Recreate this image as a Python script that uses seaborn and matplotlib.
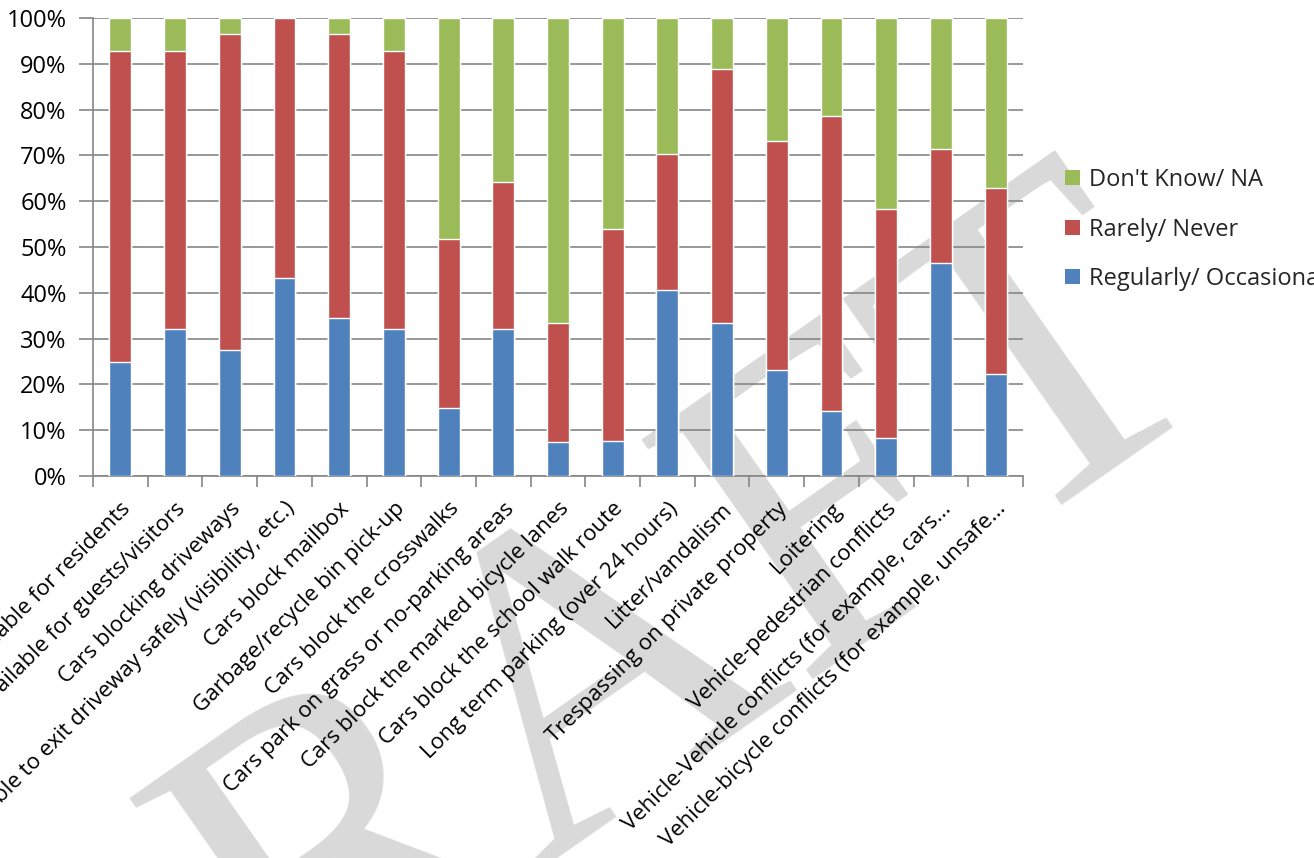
import numpy as np
import pandas as pd
import matplotlib
matplotlib.use("Agg")
import matplotlib.pyplot as plt
from matplotlib.patches import Patch
from matplotlib.ticker import FixedLocator, FuncFormatter
import seaborn as sns

# issues asked about in the survey (x axis)
issues = [
    "Parking not available for residents",
    "Parking not available for guests/visitors",
    "Cars blocking driveways",
    "Unable to exit driveway safely (visibility, etc.)",
    "Cars block mailbox",
    "Garbage/recycle bin pick-up",
    "Cars block the crosswalks",
    "Cars park on grass or no-parking areas",
    "Cars block the marked bicycle lanes",
    "Cars block the school walk route",
    "Long term parking (over 24 hours)",
    "Litter/vandalism",
    "Trespassing on private property",
    "Loitering",
    "Vehicle-pedestrian conflicts",
    "Vehicle-Vehicle conflicts (for example, cars...",
    "Vehicle-bicycle conflicts (for example, unsafe...",
]

# shares of answers, percent
regularly = [25.0, 32.1, 27.6, 43.3, 34.5, 32.1, 14.8, 32.1, 7.4, 7.7,
             40.7, 33.3, 23.1, 14.3, 8.3, 46.4, 22.2]
rarely = [67.9, 60.7, 69.0, 56.7, 62.1, 60.7, 37.0, 32.1, 25.9, 46.2,
          29.6, 55.6, 50.0, 64.3, 50.0, 25.0, 40.7]
dont_know = [7.1, 7.2, 3.4, 0.0, 3.4, 7.2, 48.2, 35.8, 66.7, 46.1,
             29.7, 11.1, 26.9, 21.4, 41.7, 28.6, 37.1]

series = ["Regularly/ Occasionally", "Rarely/ Never", "Don't Know/ NA"]
colors = ["#4F81BD", "#C0504D", "#9BBB59"]

df = pd.DataFrame({"issue": issues, "reg": regularly, "rare": rarely, "dk": dont_know})
df["top_rare"] = df["reg"] + df["rare"]
df["top_all"] = df["top_rare"] + df["dk"]

sns.set_theme(style="white")
plt.rcParams["font.family"] = ["Open Sans", "DejaVu Sans"]

fig = plt.figure(figsize=(13.14, 8.58), dpi=100)
ax = fig.add_axes([93 / 1314, 1 - 476 / 858, 930 / 1314, 458 / 858])
ax.set_zorder(1)
ax.patch.set_alpha(0)

# watermark behind the chart
fig.text(20 / 1314, 1 - 1226 / 858, "DRAFT", fontsize=324, family="Liberation Serif",
         color="#d9d9d9", rotation=35, rotation_mode="anchor",
         ha="left", va="baseline", zorder=-5)

# stacked bars, drawn as overlapping cumulative heights
sns.barplot(data=df, x="issue", y="top_all", color=colors[2], saturation=1,
            width=0.4, ax=ax, zorder=3)
sns.barplot(data=df, x="issue", y="top_rare", color=colors[1], saturation=1,
            width=0.4, ax=ax, zorder=3)
sns.barplot(data=df, x="issue", y="reg", color=colors[0], saturation=1,
            width=0.4, ax=ax, zorder=3)

grid_col = "#868686"
ax.set_ylim(0, 100)
ax.set_xlim(-0.5, len(issues) - 0.5)
ax.set_yticks(np.arange(0, 101, 10))
ax.yaxis.set_major_formatter(FuncFormatter(lambda v, p: f"{int(v)}%"))
ax.yaxis.grid(True, color=grid_col, linewidth=1.2, zorder=0)
ax.set_axisbelow(True)
ax.set_xlabel("")
ax.set_ylabel("")

for s in ["top", "right"]:
    ax.spines[s].set_visible(False)
for s in ["left", "bottom"]:
    ax.spines[s].set_color(grid_col)
    ax.spines[s].set_linewidth(1.2)

ax.tick_params(axis="y", which="major", length=10, width=1.2, color=grid_col,
               labelsize=17, labelcolor="black", pad=9, left=True)
ax.set_xticks(range(len(issues)))
ax.set_xticklabels(issues, rotation=45, ha="right", rotation_mode="anchor")
ax.tick_params(axis="x", which="major", length=0, labelsize=16, labelcolor="black", pad=16)
ax.xaxis.set_minor_locator(FixedLocator(np.arange(-0.5, len(issues), 1.0)))
ax.tick_params(axis="x", which="minor", length=8, width=1.2, color=grid_col, bottom=True)

handles = [Patch(facecolor=colors[i], edgecolor="none") for i in [2, 1, 0]]
labels = [series[i] for i in [2, 1, 0]]
fig.legend(handles, labels, loc="upper left", bbox_to_anchor=(1065 / 1314, 1 - 168 / 858),
           frameon=False, fontsize=17, handlelength=0.62, handleheight=0.62,
           handletextpad=0.4, labelspacing=1.08, borderpad=0, borderaxespad=0)

fig.savefig("out.png", dpi=100)
